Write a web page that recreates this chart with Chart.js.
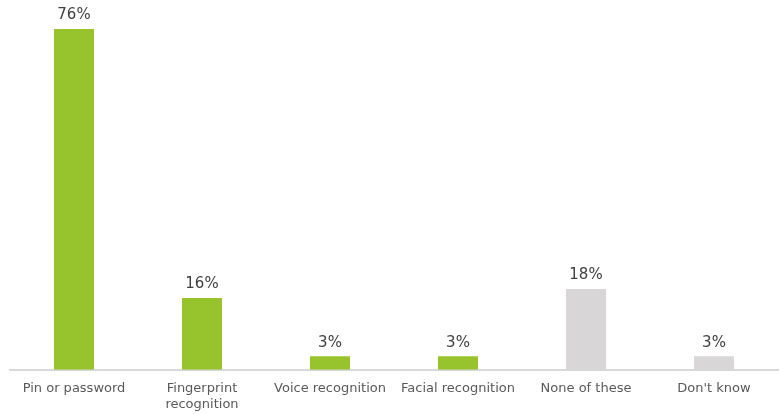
<!DOCTYPE html>
<html>
<head>
  <title>Authentication methods</title>
  <script src="https://cdn.jsdelivr.net/npm/chart.js"></script>
  <style>
    html, body { margin: 0; padding: 0; background: #fff; }
    #wrap { width: 781px; height: 414px; }
  </style>
</head>
<body>
  <div id="wrap">
    <canvas id="authChart"></canvas>
  </div>

  <script>
    const categories = [
      'Pin or password',
      ['Fingerprint', 'recognition'],
      'Voice recognition',
      'Facial recognition',
      'None of these',
      "Don't know"
    ];
    const shares = [76, 16, 3, 3, 18, 3];
    const barColors = ['#97c42d', '#97c42d', '#97c42d', '#97c42d', '#d8d6d6', '#d8d6d6'];

    // percentage labels above each bar
    const valueLabels = {
      id: 'valueLabels',
      afterDatasetsDraw(chart) {
        const ctx = chart.ctx;
        const meta = chart.getDatasetMeta(0);
        ctx.save();
        ctx.font = '15px "DejaVu Sans", Verdana, sans-serif';
        ctx.fillStyle = '#404040';
        ctx.textAlign = 'center';
        ctx.textBaseline = 'bottom';
        meta.data.forEach((bar, i) => {
          ctx.fillText(shares[i] + '%', bar.x, bar.y - 6);
        });
        ctx.restore();
      }
    };

    new Chart(document.getElementById('authChart'), {
      type: 'bar',
      data: {
        labels: categories,
        datasets: [{
          data: shares,
          backgroundColor: barColors,
          barPercentage: 0.625,
          categoryPercentage: 0.5
        }]
      },
      options: {
        responsive: true,
        maintainAspectRatio: false,
        animation: false,
        layout: { padding: { left: 10, right: 3, top: 11, bottom: -1 } },
        plugins: {
          legend: { display: false },
          tooltip: { enabled: false }
        },
        scales: {
          x: {
            grid: { display: false },
            border: { display: true, color: '#d9d9d9', width: 2 },
            ticks: {
              color: '#595959',
              font: { family: '"DejaVu Sans", Verdana, sans-serif', size: 13 },
              maxRotation: 0,
              autoSkip: false,
              padding: 3
            }
          },
          y: {
            display: false,
            min: 0,
            max: 80
          }
        }
      },
      plugins: [valueLabels]
    });
  </script>
</body>
</html>
